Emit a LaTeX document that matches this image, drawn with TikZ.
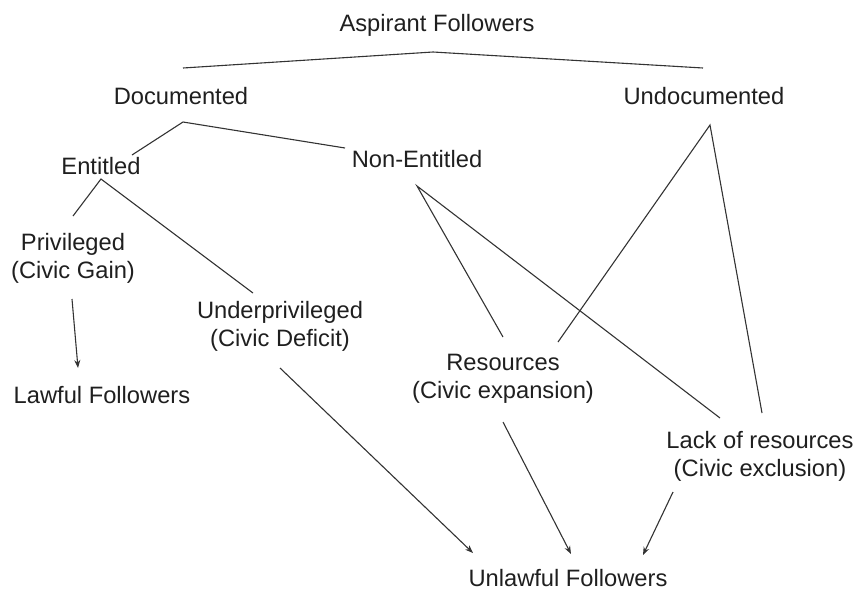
\documentclass[tikz,border=0pt]{standalone}
\usepackage{fontspec}
\setmainfont{Liberation Sans}
\usetikzlibrary{arrows.meta}
\begin{document}
\begin{tikzpicture}[x=0.5pt,y=-0.5pt,
  lbl/.style={inner sep=0pt,align=center,text=black!88,font=\fontsize{11.85}{14}\selectfont},
  link/.style={draw=black!80,line width=0.55pt},
  flow/.style={link,-{Stealth[length=4pt,width=3pt]}}]
\useasboundingbox (0,0) rectangle (857,590);
% nodes
\node[lbl] (asp) at (437,25) {Aspirant Followers};
\node[lbl] (doc) at (181,96) {Documented};
\node[lbl] (undoc) at (704,96) {Undocumented};
\node[lbl] (ent) at (101,166) {Entitled};
\node[lbl] (nonent) at (417,159) {Non-Entitled};
\node[lbl] (priv) at (73,258) {Privileged\\(Civic Gain)};
\node[lbl] (under) at (280,326) {Underprivileged\\(Civic Deficit)};
\node[lbl] (lawful) at (102,395) {Lawful Followers};
\node[lbl] (res) at (503,379) {Resources\\(Civic expansion)};
\node[lbl] (lack) at (760,456) {Lack of resources\\(Civic exclusion)};
\node[lbl] (unlawful) at (568,578) {Unlawful Followers};
% connector end points
\coordinate (aspA) at (433,52);
\coordinate (docT) at (183,68);
\coordinate (undocT) at (703,68);
\coordinate (docA) at (183,122);
\coordinate (entT) at (132,155);
\coordinate (nonentT) at (345,148);
\coordinate (entA) at (101,179);
\coordinate (privT) at (73,216);
\coordinate (underT) at (253,293);
\coordinate (privB) at (72,299);
\coordinate (lawfulT) at (78,368);
\coordinate (underB) at (280,368);
\coordinate (unlA) at (473,553);
\coordinate (nonA) at (417,186);
\coordinate (resTL) at (503,337);
\coordinate (lackTL) at (720,418);
\coordinate (undocA) at (710,125);
\coordinate (resTR) at (558,342);
\coordinate (lackTR) at (762,413);
\coordinate (resB) at (503,422);
\coordinate (unlB) at (571,554);
\coordinate (lackB) at (673,492);
\coordinate (unlC) at (643,555);
% tree lines
\draw[link] (docT) -- (aspA) -- (undocT);
\draw[link] (entT) -- (docA) -- (nonentT);
\draw[link] (privT) -- (entA) -- (underT);
\draw[link] (resTL) -- (nonA) -- (lackTL);
\draw[link] (resTR) -- (undocA) -- (lackTR);
% arrows
\draw[flow] (privB) -- (lawfulT);
\draw[flow] (underB) -- (unlA);
\draw[flow] (resB) -- (unlB);
\draw[flow] (lackB) -- (unlC);
\end{tikzpicture}
\end{document}
